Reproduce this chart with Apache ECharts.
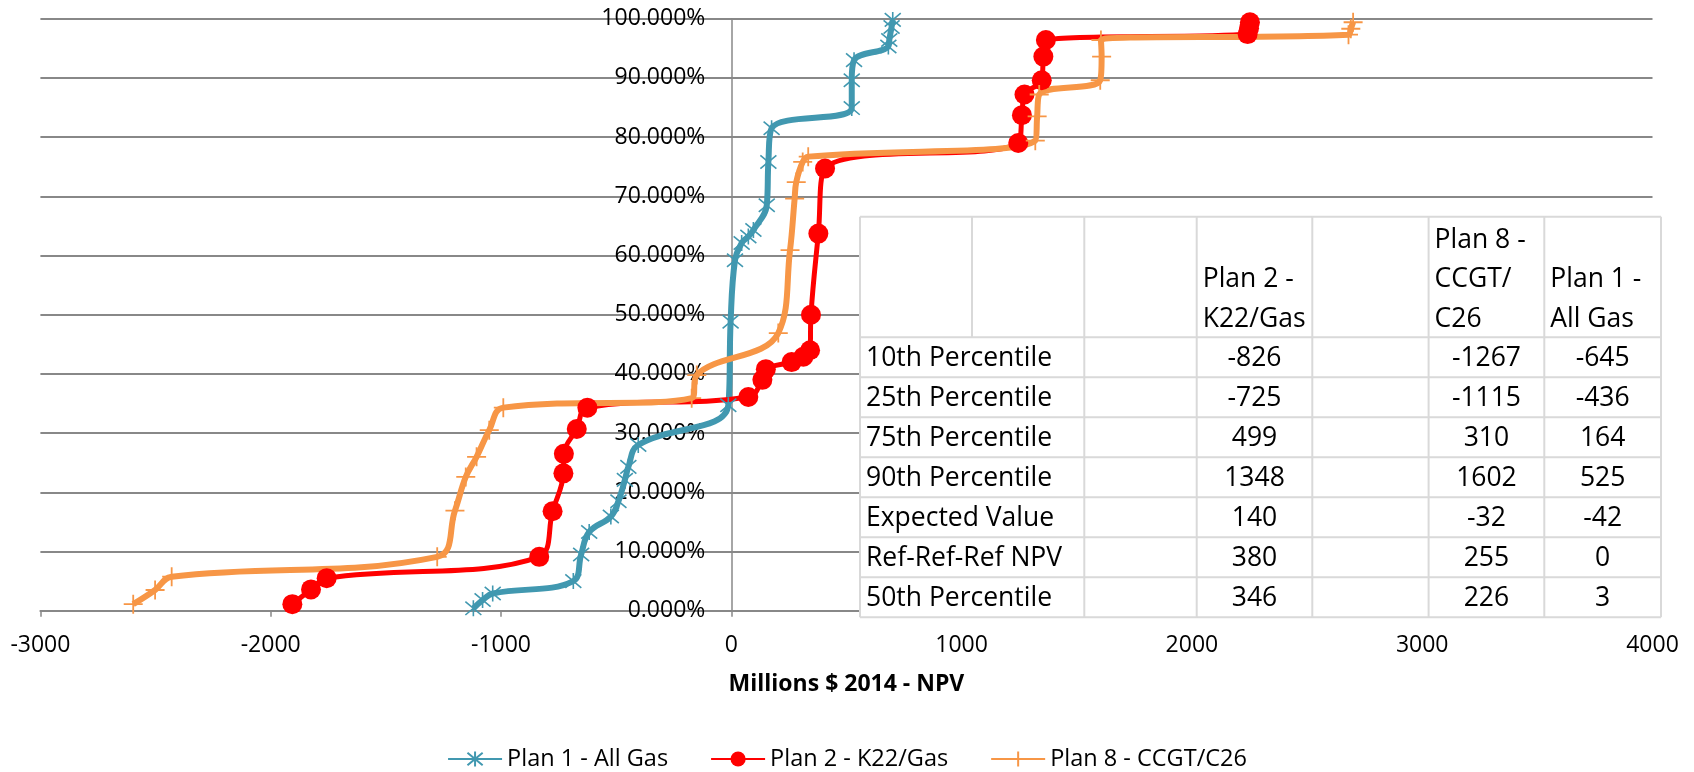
<!DOCTYPE html>
<html>
<head>
<meta charset="utf-8">
<script src="https://cdn.jsdelivr.net/npm/echarts@6/dist/echarts.min.js"></script>
<style>
  html, body { margin: 0; padding: 0; background: #ffffff; }
  #chart { width: 1694px; height: 772px; }
</style>
</head>
<body>
<div id="chart"></div>
<script>
// ---- Cumulative probability curves (NPV in millions $2014, probability in %) ----
const seriesNames = ['Plan 1 - All Gas', 'Plan 2 - K22/Gas', 'Plan 8 - CCGT/C26'];

const plan1Npv  = [-1120, -1080, -1036, -686, -652, -617, -523, -490, -462, -447, -404, -13, -3, 16, 45, 74, 96, 154, 161, 175, 523, 523, 533, 682, 686, 696, 701];
const plan1Prob = [0.4, 1.8, 2.9, 5.0, 9.5, 13.3, 15.9, 18.5, 22.1, 24.3, 28.0, 34.7, 48.8, 59.2, 62.1, 63.2, 64.3, 68.5, 75.8, 81.5, 84.9, 89.6, 93.0, 95.3, 96.4, 98.6, 99.8];

const plan2Npv  = [-1906, -1825, -1757, -834, -776, -729, -727, -671, -625, 74, 135, 150, 262, 313, 342, 346, 378, 407, 1246, 1262, 1273, 1348, 1355, 1366, 2242, 2248, 2252];
const plan2Prob = [1.1, 3.6, 5.5, 9.1, 16.8, 23.2, 26.5, 30.7, 34.3, 36.1, 39.0, 40.8, 42.0, 42.9, 44.0, 50.0, 63.7, 74.7, 79.0, 83.7, 87.2, 89.6, 93.6, 96.4, 97.4, 98.4, 99.4];

const plan8Npv  = [-2597, -2502, -2430, -1277, -1200, -1153, -1106, -1051, -990, -172, -150, 204, 255, 275, 282, 310, 334, 1320, 1328, 1337, 1602, 1608, 1605, 2680, 2690, 2700];
const plan8Prob = [1.1, 3.5, 5.75, 9.1, 16.9, 22.6, 26.0, 30.5, 34.3, 35.9, 39.8, 46.9, 60.9, 69.6, 72.4, 75.8, 76.7, 79.4, 83.5, 87.2, 89.6, 93.6, 96.4, 97.3, 98.3, 99.4];

// ---- Axis ranges ----
const npvRange = [-3000, 4000];
const npvStep = 1000;
const probRange = [0, 100];
const probStep = 10;
const xAxisTitle = 'Millions $ 2014 - NPV';

// ---- Summary table ----
const tableHeaders = [['Plan 2 -', 'K22/Gas'], ['Plan 8 -', 'CCGT/', 'C26'], ['Plan 1 -', 'All Gas']];
const tableRowLabels = ['10th Percentile', '25th Percentile', '75th Percentile', '90th Percentile', 'Expected Value', 'Ref-Ref-Ref NPV', '50th Percentile'];
const plan2Stats = [-826, -725, 499, 1348, 140, 380, 346];
const plan8Stats = [-1267, -1115, 310, 1602, -32, 255, 226];
const plan1Stats = [-645, -436, 164, 525, -42, 0, 3];

// ---- Styling ----
const FONT = '"Open Sans", "Liberation Sans", sans-serif';
const colors = ['#4198B0', '#FF0000', '#F79646'];
const gridGray = '#888888';

const GRID = { left: 40.4, right: 41.5, top: 18.7, bottom: 161.3 };
const CHART_W = 1694;
// the value axis is drawn where NPV = 0
const zeroOffset = (0 - npvRange[0]) / (npvRange[1] - npvRange[0]) * (CHART_W - GRID.left - GRID.right);

const pairs = (xs, ys) => xs.map((x, i) => [x, ys[i]]);

const starSymbol = 'path://M0,0L10,10M10,0L0,10M5,-1L5,11';
const plusSymbol = 'path://M5,0L5,10M0,5L10,5';

function lineSeries(name, data, color, symbol, size, lineWidth, markerStroke) {
  const isPath = symbol.indexOf('path://') === 0;
  return {
    name: name,
    type: 'line',
    data: data,
    smooth: 0.4,
    symbol: symbol,
    symbolSize: size,
    showSymbol: true,
    showAllSymbol: true,
    lineStyle: { color: color, width: lineWidth },
    itemStyle: isPath
      ? { color: color, borderColor: color, borderWidth: markerStroke }
      : { color: color, borderWidth: 0 },
    emphasis: { disabled: true },
    animation: false
  };
}

// ---- Table as graphic elements ----
const colEdges = [860, 972, 1084.3, 1196.7, 1312.3, 1428.6, 1544.3, 1661];
const tableTop = 216.7;
const headerBottom = 337.3;
const rowH = 40;
const tableBottom = headerBottom + rowH * tableRowLabels.length;
const tableLine = '#D9D9D9';
const tableFontSize = 26.5;

function buildTable() {
  const els = [];
  els.push({
    type: 'rect', z: 100,
    shape: { x: colEdges[0], y: tableTop, width: colEdges[7] - colEdges[0], height: tableBottom - tableTop },
    style: { fill: '#ffffff', stroke: null }
  });
  // horizontal rules
  const hy = [tableTop, headerBottom];
  for (let i = 1; i <= tableRowLabels.length; i++) hy.push(headerBottom + rowH * i);
  hy.forEach(y => els.push({
    type: 'line', z: 101,
    shape: { x1: colEdges[0], y1: y, x2: colEdges[7], y2: y },
    style: { stroke: tableLine, lineWidth: 2 }
  }));
  // vertical rules: all columns in header, label column spans two cells in body
  colEdges.forEach((x, i) => {
    const yEnd = (i === 1) ? headerBottom : tableBottom;
    els.push({
      type: 'line', z: 101,
      shape: { x1: x, y1: tableTop, x2: x, y2: yEnd },
      style: { stroke: tableLine, lineWidth: 2 }
    });
  });
  const textEl = (txt, x, y, align) => ({
    type: 'text', z: 102, x: x, y: y,
    style: { text: txt, fill: '#000000', font: tableFontSize + 'px ' + FONT, textAlign: align, textVerticalAlign: 'middle' }
  });
  // header cells (bottom-aligned, wrapped)
  const headerCols = [3, 5, 6];
  tableHeaders.forEach((lines, h) => {
    const left = colEdges[headerCols[h]] + 6;
    lines.forEach((ln, k) => {
      const y = headerBottom - 18 - (lines.length - 1 - k) * 39.5;
      els.push(textEl(ln, left, y, 'left'));
    });
  });
  // body rows
  const statCols = [[plan2Stats, 3], [plan8Stats, 5], [plan1Stats, 6]];
  tableRowLabels.forEach((lab, r) => {
    const yc = headerBottom + rowH * r + rowH / 2 + 1.5;
    els.push(textEl(lab, colEdges[0] + 6, yc, 'left'));
    statCols.forEach(([arr, c]) => {
      const cx = (colEdges[c] + colEdges[c + 1]) / 2;
      els.push(textEl(String(arr[r]), cx, yc, 'center'));
    });
  });
  return els;
}

const chart = echarts.init(document.getElementById('chart'), null, { renderer: 'canvas' });

chart.setOption({
  backgroundColor: '#ffffff',
  animation: false,
  textStyle: { fontFamily: FONT },
  grid: {
    left: GRID.left, right: GRID.right, top: GRID.top, bottom: GRID.bottom,
    containLabel: false,
    outerBoundsMode: 'none'
  },
  xAxis: {
    type: 'value',
    min: npvRange[0], max: npvRange[1], interval: npvStep,
    name: xAxisTitle,
    nameLocation: 'middle',
    nameGap: 62,
    nameTextStyle: { fontFamily: FONT, fontWeight: 'bold', fontSize: 23, color: '#000000' },
    axisLine: { show: true, onZero: false, lineStyle: { color: gridGray, width: 2 } },
    axisTick: { show: true, inside: false, length: 6, lineStyle: { color: gridGray, width: 1.5 } },
    axisLabel: { fontFamily: FONT, fontSize: 23, color: '#000000', margin: 23, formatter: v => String(v) },
    splitLine: { show: false }
  },
  yAxis: {
    type: 'value',
    position: 'left',
    offset: -zeroOffset,
    min: probRange[0], max: probRange[1], interval: probStep,
    axisLine: { show: true, onZero: false, lineStyle: { color: gridGray, width: 1.5 } },
    axisTick: { show: true, inside: false, length: 8, lineStyle: { color: gridGray, width: 1.5 } },
    axisLabel: {
      fontFamily: FONT, fontSize: 23, color: '#000000', margin: 26,
      formatter: v => v.toFixed(3) + '%'
    },
    splitLine: { show: true, lineStyle: { color: gridGray, width: 2 } }
  },
  legend: {
    data: seriesNames,
    left: 'center',
    top: 742,
    itemWidth: 54,
    itemHeight: 19,
    itemGap: 42,
    textStyle: { fontFamily: FONT, fontSize: 23.5, color: '#000000' }
  },
  series: [
    lineSeries(seriesNames[0], pairs(plan1Npv, plan1Prob), colors[0], starSymbol, 16, 6, 1.6),
    lineSeries(seriesNames[1], pairs(plan2Npv, plan2Prob), colors[1], 'circle', 20, 5, 0),
    lineSeries(seriesNames[2], pairs(plan8Npv, plan8Prob), colors[2], plusSymbol, 19, 6, 1.8)
  ],
  graphic: { elements: buildTable() }
});
</script>
</body>
</html>
